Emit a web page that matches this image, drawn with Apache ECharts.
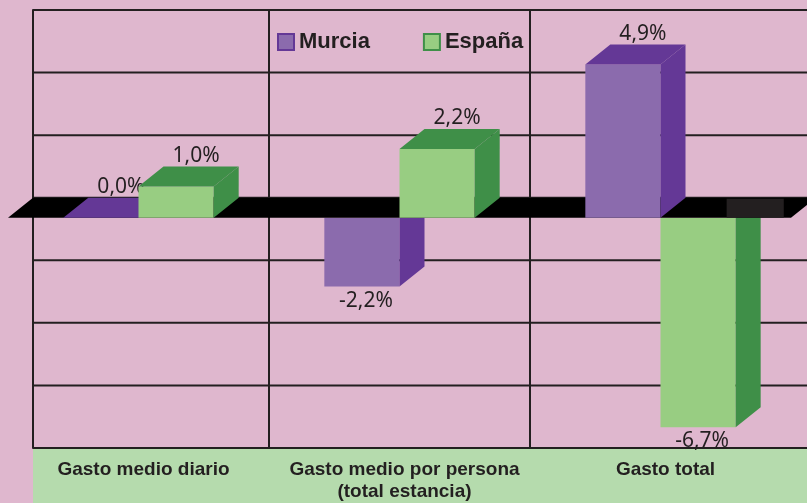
<!DOCTYPE html>
<html>
<head>
<meta charset="utf-8">
<script src="https://cdn.jsdelivr.net/npm/echarts@6/dist/echarts.min.js"></script>
<style>
html, body { margin: 0; padding: 0; background: #dfb7ce; overflow: hidden; }
/* the plot runs past the right edge of the window, as in the original */
#chart { width: 830px; height: 503px; }
</style>
</head>
<body>
<div id="chart"></div>
<script>
// data
var categories = ['Gasto medio diario', 'Gasto medio por persona\n(total estancia)', 'Gasto total'];
var murcia = [0.0, -2.2, 4.9];
var espana = [1.0, 2.2, -6.7];
var yMin = -8, yMax = 6, yStep = 2;

var DX = 25, DY = 20; // depth of the 3D boxes
var INK = '#231f20';
var colMurcia = { front: '#8b6bad', dark: '#643896' };
var colEspana = { front: '#98cd82', dark: '#3f8f48' };

function fmt(v) {
  return v.toFixed(1).replace('.', ',') + '%';
}

// positive: draw bars >= 0 (in front of the floor), otherwise bars < 0 (behind it)
function barRenderer(col, isLeft, positive) {
  return function (params, api) {
    var idx = api.value(0), val = api.value(1);
    if ((val >= 0) !== positive) return null;
    var band = api.size([1, 0])[0];
    var w = band * 0.288;
    var p0 = api.coord([idx, 0]);
    var p1 = api.coord([idx, val]);
    var cx = p0[0] - DX;
    var x0 = isLeft ? cx - w : cx, x1 = x0 + w;
    var y0 = p0[1] + DY, y1 = p1[1] + DY; // front face
    var kids = [];
    kids.push({ type: 'rect',
      shape: { x: x0, y: Math.min(y0, y1), width: w, height: Math.abs(y1 - y0) },
      style: { fill: col.front } });
    kids.push({ type: 'polygon',
      shape: { points: [[x1, y0], [x1 + DX, y0 - DY], [x1 + DX, y1 - DY], [x1, y1]] },
      style: { fill: col.dark } });
    var lbl = { fontFamily: 'Noto Sans', fontSize: 21, fill: INK, align: 'center', text: fmt(val) };
    if (positive) {
      kids.push({ type: 'polygon',
        shape: { points: [[x0, y1], [x1, y1], [x1 + DX, y1 - DY], [x0 + DX, y1 - DY]] },
        style: { fill: col.dark } });
      lbl.x = (x0 + x1) / 2 + 20; lbl.y = y1 - 20; lbl.verticalAlign = 'bottom';
    } else {
      lbl.x = (x0 + x1) / 2 + 4; lbl.y = y1 + 14; lbl.verticalAlign = 'middle';
    }
    kids.push({ type: 'text', style: lbl });
    return { type: 'group', children: kids };
  };
}

function gridRenderer(params, api) {
  var cs = params.coordSys;
  var band = api.size([1, 0])[0];
  var kids = [];
  for (var v = yMin; v <= yMax; v += yStep) {
    var y = api.coord([0, v])[1];
    kids.push({ type: 'line',
      shape: { x1: cs.x, y1: y, x2: cs.x + cs.width, y2: y },
      style: { stroke: INK, lineWidth: 2 } });
  }
  for (var i = 1; i < categories.length; i++) {
    var x = cs.x + i * band - DX;
    kids.push({ type: 'line',
      shape: { x1: x, y1: cs.y, x2: x, y2: cs.y + cs.height },
      style: { stroke: INK, lineWidth: 2 } });
  }
  return { type: 'group', children: kids };
}

// black floor at zero, plus the dark patch behind the negative España bar
function floorRenderer(params, api) {
  var cs = params.coordSys;
  var band = api.size([1, 0])[0];
  var w = band * 0.288;
  var yz = api.coord([0, 0])[1];
  var kids = [{ type: 'polygon',
    shape: { points: [[cs.x, yz], [cs.x + cs.width, yz], [cs.x + cs.width - DX, yz + DY], [cs.x - DX, yz + DY]] },
    style: { fill: '#000' } }];
  espana.forEach(function (v, i) {
    if (v >= 0) return;
    var x0 = api.coord([i, 0])[0] - DX;
    kids.push({ type: 'rect',
      shape: { x: x0 + w * 0.88, y: yz + 1, width: w * 0.76, height: DY - 1 },
      style: { fill: INK } });
  });
  return { type: 'group', children: kids };
}

function pairs(arr) {
  return arr.map(function (v, i) { return [i, v]; });
}

var chart = echarts.init(document.getElementById('chart'));
chart.setOption({
  backgroundColor: '#dfb7ce',
  animation: false,
  grid: { left: 33, top: 10, width: 783, height: 438 },
  graphic: [{
    type: 'rect', left: 33, top: 449, z: -10,
    shape: { width: 800, height: 54 },
    style: { fill: '#b5dbad' }
  }],
  legend: {
    left: 272, top: 26,
    icon: 'rect', itemWidth: 16, itemHeight: 16, itemGap: 53,
    textStyle: { fontFamily: 'Liberation Sans', fontWeight: 'bold', fontSize: 22, color: INK },
    data: [
      { name: 'Murcia', itemStyle: { color: colMurcia.front, borderColor: colMurcia.dark, borderWidth: 2 } },
      { name: 'España', itemStyle: { color: colEspana.front, borderColor: colEspana.dark, borderWidth: 2 } }
    ]
  },
  xAxis: {
    type: 'category',
    data: categories,
    axisLine: { show: false },
    axisTick: { show: false },
    splitLine: { show: false },
    axisLabel: {
      interval: 0, margin: 11,
      fontFamily: 'Liberation Sans', fontWeight: 'bold', fontSize: 19, lineHeight: 22,
      color: INK, padding: [0, 40, 0, 0]
    }
  },
  yAxis: {
    type: 'value',
    min: yMin, max: yMax, interval: yStep,
    axisLabel: { show: false },
    axisTick: { show: false },
    axisLine: { show: true, lineStyle: { color: INK, width: 2 } },
    splitLine: { show: false }
  },
  series: [
    { type: 'custom', name: 'grid', silent: true, z: 1, data: [[0, 0]], renderItem: gridRenderer },
    { type: 'custom', name: 'Murcia', z: 2, itemStyle: { color: colMurcia.front },
      data: pairs(murcia), renderItem: barRenderer(colMurcia, true, false) },
    { type: 'custom', name: 'España', z: 2, itemStyle: { color: colEspana.front },
      data: pairs(espana), renderItem: barRenderer(colEspana, false, false) },
    { type: 'custom', name: 'floor', silent: true, z: 3, data: [[0, 0]], renderItem: floorRenderer },
    { type: 'custom', name: 'Murcia', z: 4, itemStyle: { color: colMurcia.front },
      data: pairs(murcia), renderItem: barRenderer(colMurcia, true, true) },
    { type: 'custom', name: 'España', z: 4, itemStyle: { color: colEspana.front },
      data: pairs(espana), renderItem: barRenderer(colEspana, false, true) }
  ]
});
</script>
</body>
</html>
